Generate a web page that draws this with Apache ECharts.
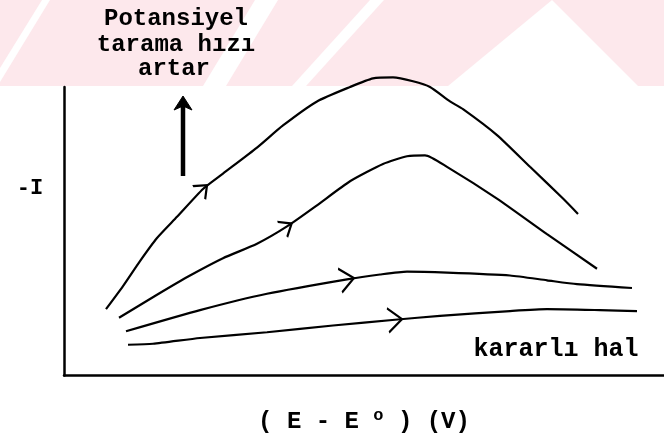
<!DOCTYPE html>
<html>
<head>
<meta charset="utf-8">
<script src="https://cdn.jsdelivr.net/npm/echarts@6/dist/echarts.min.js"></script>
<style>
  html, body { margin: 0; padding: 0; background: #ffffff; }
  #chart { width: 664px; height: 439px; }
</style>
</head>
<body>
<div id="chart"></div>
<script>
// Voltammograms at four scan rates: potential offset (E - E°, arbitrary units)
// and cathodic current (-I, arbitrary units). Slowest scan = steady state.
const scanFastestE = [42, 59, 76, 93, 113, 139, 159, 193, 219, 253, 286, 309, 329, 349, 366, 386, 399, 433, 466, 499, 514];
const scanFastestI = [69, 93, 119, 143, 165, 194, 210, 237, 260, 285, 300, 309, 310, 306, 300, 285, 277, 250, 217, 184, 168];

const scanFastE = [55, 93, 126, 159, 193, 223, 253, 286, 319, 343, 361, 383, 433, 483, 533];
const scanFastI = [60, 84, 104, 122, 137, 155, 177, 202, 220, 228, 229, 217, 184, 147, 111];

const scanSlowE = [62, 136, 203, 283, 316, 343, 383, 446, 483, 513, 568];
const scanSlowI = [46, 68, 85, 100, 105, 108, 107, 104, 99, 95, 91];

const steadyE = [64, 89, 136, 203, 269, 331, 376, 446, 483, 536, 573];
const steadyI = [32, 33, 39, 45, 52, 58, 62, 67, 69, 68, 67];

// index of the point on each curve that carries the scan-direction chevron
const chevronAt = [5, 5, 3, 5];
const chevronSize = [[11, 18], [11, 18], [14, 24], [14, 24]];

const curves = [
  [scanFastestE, scanFastestI],
  [scanFastE, scanFastI],
  [scanSlowE, scanSlowI],
  [steadyE, steadyI]
];

const FONT = '"Liberation Mono", "DejaVu Sans Mono", monospace';
const PINK = '#fde8ec';

const chart = echarts.init(document.getElementById('chart'), null, { renderer: 'canvas' });

function pairs(xs, ys) { return xs.map((x, i) => [x, ys[i]]); }

const axisCommon = {
  type: 'value',
  axisLine: { show: true, onZero: false, lineStyle: { color: '#000', width: 2.5 } },
  axisTick: { show: false },
  axisLabel: { show: false },
  splitLine: { show: false }
};

const option = {
  animation: false,
  backgroundColor: '#ffffff',
  grid: { left: 64, right: 0, top: 87, bottom: 52 },
  xAxis: Object.assign({}, axisCommon, {
    min: 0, max: 600,
    name: '{a|( E - E }{s|o}{a| ) (V)}',
    nameLocation: 'middle',
    nameGap: 32,
    nameTextStyle: {
      rich: {
        a: { fontFamily: FONT, fontWeight: 'bold', fontSize: 24, color: '#000' },
        s: { fontFamily: FONT, fontWeight: 'bold', fontSize: 17, color: '#000', padding: [0, 0, 12, 0] }
      }
    }
  }),
  yAxis: Object.assign({}, axisCommon, { min: 0, max: 300 }),
  graphic: [
    // light pink banner behind the heading
    { type: 'rect', z: -10, silent: true, shape: { x: 0, y: 0, width: 664, height: 86 }, style: { fill: PINK } },
    { type: 'polygon', z: -9, silent: true, shape: { points: [[42, 0], [50, 0], [0, 82], [0, 68]] }, style: { fill: '#fff' } },
    { type: 'polygon', z: -9, silent: true, shape: { points: [[255, 0], [278, 0], [226, 86], [203, 86]] }, style: { fill: '#fff' } },
    { type: 'polygon', z: -9, silent: true, shape: { points: [[370, 0], [384, 0], [306, 86], [292, 86]] }, style: { fill: '#fff' } },
    { type: 'polygon', z: -9, silent: true, shape: { points: [[552, 0], [638, 86], [448, 86]] }, style: { fill: '#fff' } },
    // heading
    { type: 'text', silent: true, x: 176, y: 19, style: { text: 'Potansiyel', font: 'bold 24px ' + FONT, fill: '#000', textAlign: 'center', textVerticalAlign: 'middle' } },
    { type: 'text', silent: true, x: 176, y: 45, style: { text: 'tarama hızı', font: 'bold 24px ' + FONT, fill: '#000', textAlign: 'center', textVerticalAlign: 'middle' } },
    { type: 'text', silent: true, x: 174, y: 69, style: { text: 'artar', font: 'bold 24px ' + FONT, fill: '#000', textAlign: 'center', textVerticalAlign: 'middle' } },
    // upward arrow: scan rate increases
    { type: 'line', silent: true, shape: { x1: 183, y1: 176, x2: 183, y2: 104 }, style: { stroke: '#000', lineWidth: 4.5 } },
    { type: 'polygon', silent: true, shape: { points: [[183, 96], [192, 110], [183, 106], [174, 110]] }, style: { fill: '#000', stroke: '#000', lineWidth: 1 } },
    // axis label for the current
    { type: 'text', silent: true, x: 30, y: 188, style: { text: '-I', font: 'bold 22px ' + FONT, fill: '#000', textAlign: 'center', textVerticalAlign: 'middle' } },
    // steady-state label
    { type: 'text', silent: true, x: 556, y: 350, style: { text: 'kararlı hal', font: 'bold 25px ' + FONT, fill: '#000', textAlign: 'center', textVerticalAlign: 'middle' } }
  ],
  series: curves.map(c => ({
    type: 'line',
    data: pairs(c[0], c[1]),
    symbol: 'none',
    smooth: 0.2,
    clip: false,
    lineStyle: { color: '#000', width: 2.2 },
    silent: true
  }))
};

chart.setOption(option);

// Chevrons point along each curve, so their angle comes from neighbouring points in pixel space.
const markSeries = curves.map((c, k) => {
  const i = chevronAt[k];
  const a = chart.convertToPixel({ gridIndex: 0 }, [c[0][i - 1], c[1][i - 1]]);
  const b = chart.convertToPixel({ gridIndex: 0 }, [c[0][i + 1], c[1][i + 1]]);
  const angle = Math.atan2(-(b[1] - a[1]), b[0] - a[0]) * 180 / Math.PI;
  return {
    markPoint: {
      silent: true,
      symbol: 'path://M0,0L12,10L0,20',
      symbolSize: chevronSize[k],
      label: { show: false },
      itemStyle: { color: 'rgba(0,0,0,0)', borderColor: '#000', borderWidth: 2 },
      data: [{ coord: [c[0][i], c[1][i]], symbolRotate: angle }]
    }
  };
});
chart.setOption({ series: markSeries });
</script>
</body>
</html>
